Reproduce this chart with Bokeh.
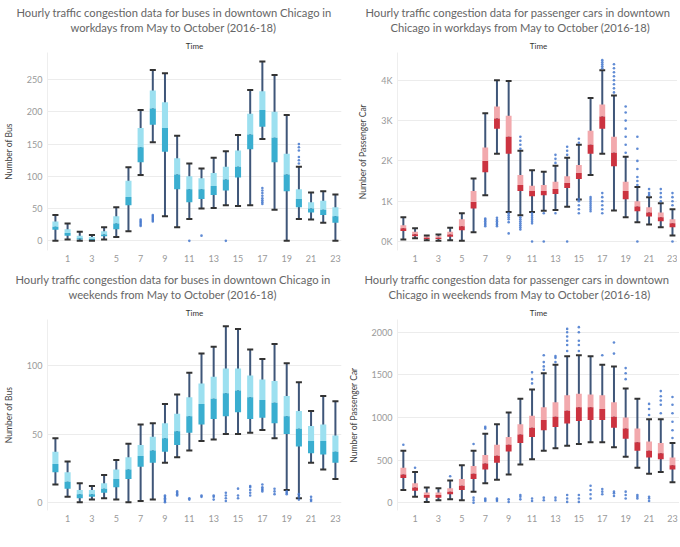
from bokeh.plotting import figure
from bokeh.layouts import gridplot
from bokeh.models import Title, FixedTicker
from bokeh.embed import file_html
from bokeh.resources import INLINE

hours = list(range(24))
x_ticks = [1, 3, 5, 7, 9, 11, 13, 15, 17, 19, 21, 23]

# ---- Buses, workdays ----
bus_wd_lo = [0, 2, 0, 0, 2, 6, 15, 102, 153, 38, 21, 34, 50, 51, 55, 54, 55, 158, 48, 0, 34, 33, 28, 0]
bus_wd_q1 = [17, 8, 2, 1, 7, 18, 55, 122, 180, 138, 80, 60, 65, 71, 78, 98, 142, 177, 122, 77, 52, 44, 40, 28]
bus_wd_med = [22, 12, 4, 3, 10, 27, 68, 145, 205, 175, 103, 80, 80, 85, 95, 115, 165, 203, 160, 103, 65, 50, 48, 38]
bus_wd_q3 = [30, 18, 8, 6, 15, 38, 93, 175, 233, 215, 128, 100, 97, 105, 115, 140, 197, 232, 200, 135, 80, 60, 62, 52]
bus_wd_hi = [40, 27, 14, 9, 21, 52, 114, 203, 265, 260, 163, 120, 112, 129, 139, 164, 234, 278, 257, 195, 115, 75, 77, 72]
bus_wd_out_h = [7, 7, 7, 7, 7, 7, 8, 8, 8, 8, 8, 8, 11, 12, 14,
                17, 17, 17, 17, 17, 17, 17, 17, 20, 20, 20, 20, 20, 20]
bus_wd_out_v = [23, 25, 27, 29, 31, 33, 30, 32, 34, 36, 38, 40, 0, 8, 0,
                57, 60, 63, 66, 70, 74, 78, 82, 120, 125, 130, 140, 145, 150]

# ---- Passenger cars, workdays ----
car_wd_lo = [50, 80, 30, 20, 30, 20, 230, 1150, 2180, 730, 650, 730, 760, 780, 860, 1040, 1650, 2180, 770, 600, 480, 420, 350, 150]
car_wd_q1 = [260, 130, 60, 60, 120, 280, 820, 1720, 2800, 2180, 1250, 1120, 1150, 1180, 1330, 1550, 2180, 2800, 1870, 1050, 750, 620, 500, 350]
car_wd_med = [330, 180, 90, 90, 170, 380, 980, 2000, 3050, 2600, 1400, 1250, 1250, 1300, 1450, 1700, 2400, 3100, 2200, 1250, 870, 720, 600, 450]
car_wd_q3 = [400, 240, 130, 130, 240, 550, 1250, 2330, 3350, 3120, 1650, 1380, 1400, 1480, 1620, 1900, 2750, 3400, 2600, 1480, 1000, 850, 720, 550]
car_wd_hi = [600, 330, 150, 170, 340, 700, 1560, 3180, 4000, 3980, 2250, 1770, 1730, 1880, 2080, 2400, 3560, 4250, 3620, 2100, 1350, 1100, 950, 800]
car_wd_out_h = [7, 7, 7, 7, 7, 7, 8, 8, 8, 8, 8, 8, 9, 9, 9, 9, 9, 9,
                10, 10, 10, 10, 10, 10, 10, 10, 10, 10, 10,
                11, 11, 11, 11, 11, 11, 11, 12, 12, 13, 13, 13, 13, 14, 14, 14, 14,
                15, 15, 15, 15, 15, 15, 15, 16, 16, 16, 16, 16, 16, 16, 16,
                17, 17, 17, 17, 17, 17, 17, 17, 17, 17, 17,
                18, 18, 18, 18, 18, 18, 18, 18, 19, 19, 19, 19, 19, 19, 19,
                20, 20, 20, 20, 20, 20, 20, 20, 21, 21, 21, 22, 22, 22, 22, 23, 23, 23, 23, 23]
car_wd_out_v = [380, 420, 460, 500, 540, 570, 380, 420, 460, 500, 540, 590, 200, 480, 550, 600, 650, 700,
                300, 350, 400, 450, 500, 550, 600, 2300, 2400, 2500, 2600,
                0, 450, 500, 550, 600, 650, 700, 0, 700, 700, 1950, 2050, 2150, 0, 2150, 2250, 2350,
                700, 800, 900, 1000, 1050, 2450, 2550, 750, 800, 850, 900, 950, 1000, 1050, 1100,
                700, 800, 900, 1000, 1100, 1200, 4300, 4350, 4400, 4450, 4500,
                3700, 3800, 3900, 4000, 4100, 4200, 4300, 4400, 2200, 2400, 2600, 2800, 3000, 3200, 3350,
                0, 1400, 1500, 1600, 1800, 2000, 2300, 2600, 1150, 1200, 1300, 1000, 1100, 1200, 1300, 0, 900, 1000, 1100, 1200]

# ---- Buses, weekends ----
bus_we_lo = [13, 4, 0, 2, 3, 2, 0, 1, 2, 29, 33, 38, 45, 46, 50, 50, 51, 53, 47, 9, 3, 29, 24, 17]
bus_we_q1 = [22, 10, 3, 4, 7, 11, 17, 26, 29, 37, 42, 51, 57, 61, 63, 66, 61, 62, 58, 50, 41, 36, 35, 29]
bus_we_med = [28, 15, 6, 6, 10, 17, 24, 34, 38, 47, 52, 63, 72, 76, 80, 82, 77, 75, 73, 63, 54, 45, 45, 37]
bus_we_q3 = [37, 22, 9, 9, 14, 24, 33, 42, 48, 58, 65, 77, 87, 92, 98, 98, 93, 90, 89, 78, 67, 56, 57, 49]
bus_we_hi = [47, 30, 14, 12, 20, 31, 43, 57, 58, 72, 79, 95, 109, 114, 129, 127, 112, 105, 116, 102, 88, 67, 78, 74]
bus_we_out_h = [9, 9, 9, 9, 9, 9, 10, 10, 10, 10, 11, 11, 12, 12, 13, 13, 13, 14, 14, 14, 14,
                15, 15, 15, 16, 16, 16, 16, 16, 17, 17, 17, 17, 17, 18, 18, 18, 19, 19, 19, 20, 20, 20, 21, 21, 21]
bus_we_out_v = [0, 1, 2, 3, 4, 5, 5, 6, 7, 8, 2, 3, 4, 5, 2, 4, 5, 1, 3, 5, 7,
                3, 5, 10, 5, 7, 9, 11, 12, 8, 9, 10, 11, 13, 6, 8, 10, 6, 7, 8, 2, 4, 6, 1, 2, 4]

# ---- Passenger cars, weekends ----
car_we_lo = [150, 70, 10, 30, 40, 30, 130, 230, 270, 330, 450, 510, 610, 640, 670, 690, 710, 710, 650, 540, 410, 340, 360, 240]
car_we_q1 = [290, 140, 60, 60, 100, 150, 280, 390, 470, 600, 700, 770, 850, 890, 930, 960, 970, 970, 880, 750, 610, 530, 510, 390]
car_we_med = [330, 180, 90, 90, 130, 200, 340, 460, 550, 680, 800, 880, 970, 1010, 1080, 1120, 1120, 1100, 1010, 870, 710, 610, 580, 440]
car_we_q3 = [410, 230, 120, 120, 170, 280, 430, 560, 680, 770, 920, 1020, 1120, 1180, 1260, 1280, 1270, 1260, 1180, 1000, 870, 720, 700, 530]
car_we_hi = [610, 360, 180, 170, 260, 440, 610, 810, 920, 1060, 1220, 1330, 1520, 1620, 1720, 1730, 1720, 1620, 1600, 1340, 1220, 980, 980, 700]
car_we_out_h = [0, 1, 4, 6, 6, 6, 6, 7, 7, 7, 7, 7, 8, 8, 8, 9, 9, 10, 10, 10,
                11, 11, 11, 11, 11, 12, 12, 12, 12, 12, 12, 13, 13, 13, 13, 13,
                14, 14, 14, 14, 14, 14, 14, 14, 14, 15, 15, 15, 15, 15, 15, 15, 15,
                16, 16, 16, 16, 17, 17, 17, 17, 18, 18, 18, 18, 18, 19, 19, 19, 19, 19, 19,
                20, 20, 20, 21, 21, 21, 21, 21, 21, 22, 22, 22, 22, 22, 23, 23, 23, 23, 23, 23]
car_we_out_v = [680, 410, 310, 0, 30, 60, 690, 20, 35, 50, 870, 890, 20, 35, 50, 10, 40, 40, 70, 90,
                20, 50, 1400, 1450, 1530, 30, 60, 1560, 1600, 1650, 1730, 30, 60, 1650, 1700, 1720,
                10, 50, 90, 1780, 1850, 1900, 1950, 2000, 2040, 10, 50, 90, 1780, 1850, 1900, 2000, 2060,
                50, 100, 150, 200, 100, 130, 160, 1730, 80, 110, 130, 1750, 1880, 50, 90, 130, 1450, 1520, 1580,
                50, 70, 90, 20, 50, 70, 1030, 1100, 1160, 1050, 1150, 1200, 1250, 1310, 760, 850, 950, 1050, 1150, 1240]

FONT = "Lato"


def panel(t1, t2, ylabel, lo, q1, med, q3, hi, oh, ov, yr, yticks, ylabels, light, dark,
          fw, fh, border_left, border_right, xr, off1, off2, spacer):
    p = figure(frame_width=fw, frame_height=fh, x_range=xr, y_range=yr,
               output_backend="svg", toolbar_location=None,
               min_border_left=border_left, min_border_right=border_right,
               min_border_top=0, min_border_bottom=0)
    p.outline_line_color = None
    p.background_fill_color = "white"
    # titles (added closest to the frame first)
    p.add_layout(Title(text="Time", align="center", text_font_size="8px", text_font=FONT,
                       text_font_style="normal", text_color="#333333", standoff=3), "above")
    p.add_layout(Title(text=t2, align="left", offset=off2, text_font_size="11.2px", text_font=FONT,
                       text_font_style="normal", text_color="#666666", standoff=7), "above")
    p.add_layout(Title(text=t1, align="left", offset=off1, text_font_size="11.2px", text_font=FONT,
                       text_font_style="normal", text_color="#666666", standoff=-6), "above")
    p.add_layout(Title(text=" ", align="center", text_font_size=spacer, text_font=FONT,
                       standoff=0), "above")

    p.xgrid.grid_line_color = None
    p.ygrid.grid_line_color = "#ececec"
    p.xaxis.ticker = FixedTicker(ticks=x_ticks)
    p.yaxis.ticker = FixedTicker(ticks=yticks)
    if ylabels is not None:
        p.yaxis.major_label_overrides = dict(zip(yticks, ylabels))
    for ax in (p.xaxis, p.yaxis):
        ax.major_tick_line_color = None
        ax.minor_tick_line_color = None
        ax.major_tick_out = 0
        ax.major_tick_in = 0
        ax.major_label_text_font = FONT
        ax.major_label_text_font_size = "9px"
        ax.major_label_text_color = "#999999"
        ax.major_label_standoff = 5
    p.xaxis.axis_line_color = None
    p.xaxis.major_label_standoff = 4
    p.yaxis.axis_line_color = "#eeeeee"
    p.yaxis.axis_label = ylabel
    p.yaxis.axis_label_text_font = FONT
    p.yaxis.axis_label_text_font_size = "8.5px"
    p.yaxis.axis_label_text_font_style = "normal"
    p.yaxis.axis_label_text_color = "#444444"
    p.yaxis.axis_label_standoff = 10

    # whiskers
    p.segment(x0=hours, y0=lo, x1=hours, y1=hi, line_color="#3f5679", line_width=2)
    # boxes: upper half (median..Q3) light, lower half (Q1..median) dark
    p.vbar(x=hours, width=0.5, bottom=med, top=q3, fill_color=light, line_color=None)
    p.vbar(x=hours, width=0.5, bottom=q1, top=med, fill_color=dark, line_color=None)
    # caps
    p.rect(x=hours, y=lo, width=0.5, height=2, height_units="screen", fill_color="#333333", line_color=None)
    p.rect(x=hours, y=hi, width=0.5, height=2, height_units="screen", fill_color="#333333", line_color=None)
    # outliers
    p.scatter(x=oh, y=ov, size=2.6, fill_color="#4477cc", line_color=None, alpha=0.85)
    return p


p1 = panel("Hourly traffic congestion data for buses  in downtown Chicago in",
           "workdays from  May to October (2016-18)", "Number of Bus",
           bus_wd_lo, bus_wd_q1, bus_wd_med, bus_wd_q3, bus_wd_hi, bus_wd_out_h, bus_wd_out_v,
           (-15, 292), [0, 50, 100, 150, 200, 250], None, "#9ce0f0", "#3aaed0",
           294, 198, 34, 4, (-0.65, 23.5), -31, 23, "3px")
p2 = panel("Hourly traffic congestion data for passenger cars  in downtown",
           "Chicago in workdays from  May to October (2016-18)", "Number of Passenger Car",
           car_wd_lo, car_wd_q1, car_wd_med, car_wd_q3, car_wd_hi, car_wd_out_h, car_wd_out_v,
           (-224, 4690), [0, 1000, 2000, 3000, 4000], ["0K", "1K", "2K", "3K", "4K"], "#f2a9ad", "#cc3340",
           282, 198, 50, 0, (-0.5, 23.6), -32, -7, "3px")
p3 = panel("Hourly traffic congestion data for buses  in downtown Chicago in",
           "weekends from  May to October (2016-18)", "Number of Bus",
           bus_we_lo, bus_we_q1, bus_we_med, bus_we_q3, bus_we_hi, bus_we_out_h, bus_we_out_v,
           (-6, 134), [0, 50, 100], None, "#9ce0f0", "#3aaed0",
           294, 191, 34, 4, (-0.65, 23.5), -32, 21, "6px")
p4 = panel("Hourly traffic congestion data for passenger cars  in downtown",
           "Chicago in weekends from  May to October (2016-18)", "Number of Passenger Car",
           car_we_lo, car_we_q1, car_we_med, car_we_q3, car_we_hi, car_we_out_h, car_we_out_v,
           (-91, 2150), [0, 500, 1000, 1500, 2000], None, "#f2a9ad", "#cc3340",
           282, 191, 50, 0, (-0.5, 23.6), -33, -9, "6px")

grid = gridplot([[p1, p2], [p3, p4]], toolbar_location=None)

open("out.html", "w").write(file_html(grid, INLINE))
